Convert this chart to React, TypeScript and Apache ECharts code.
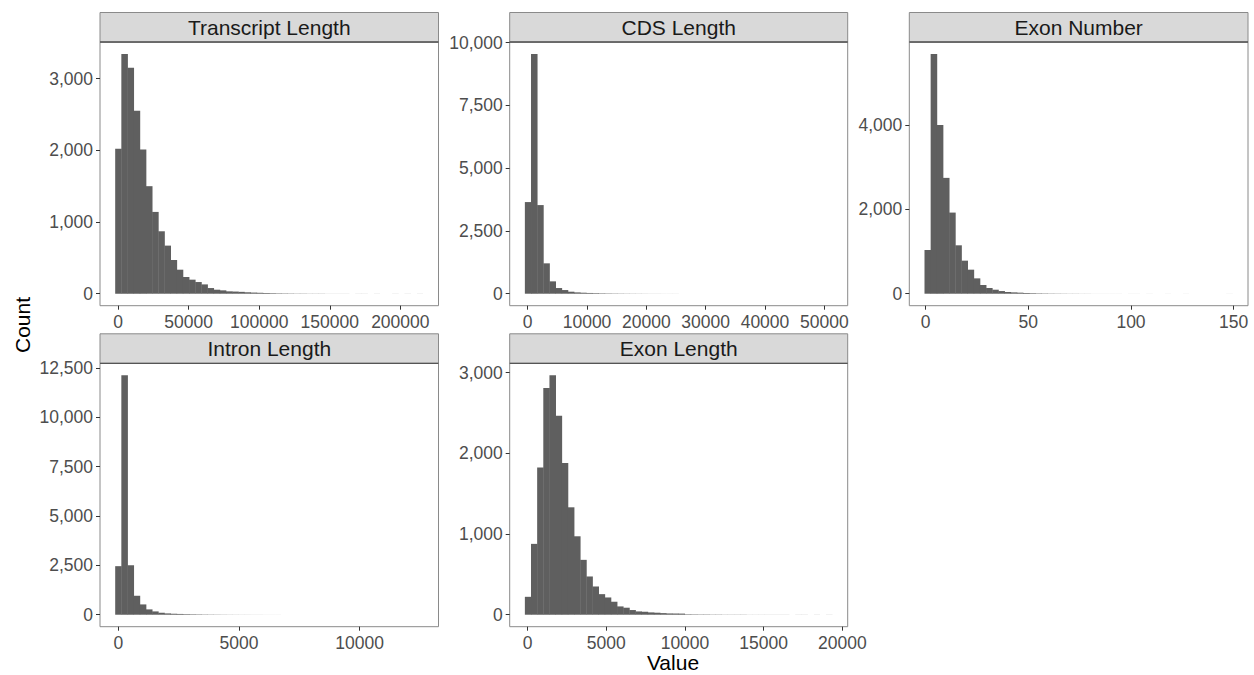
import React, { useEffect, useRef } from "react";
import * as echarts from "echarts";

// ---- Data (histogram bins: 50 bins each) ----
const PANEL_TITLES = ["Transcript Length", "CDS Length", "Exon Number", "Intron Length", "Exon Length"];

const TX_BIN_START = -1870;
const TX_BIN_WIDTH = 4360;
const TX_COUNTS = [2021, 3344, 3153, 2552, 2012, 1500, 1141, 871, 671, 470, 335, 233, 196, 163, 130, 79, 56, 47, 33, 30, 26, 20, 16, 13, 10, 8, 6, 5, 4, 3, 3, 2, 2, 2, 1, 1, 1, 1, 0, 1, 1, 0, 1, 0, 0, 1, 0, 1, 0, 1];

const CDS_BIN_START = -444;
const CDS_BIN_WIDTH = 1036;
const CDS_COUNTS = [3650, 9548, 3530, 1210, 492, 226, 146, 80, 53, 40, 30, 24, 18, 14, 11, 9, 7, 6, 5, 4, 3, 3, 2, 2, 2, 1, 1, 1, 1, 1, 0, 1, 0, 1, 0, 0, 1, 0, 0, 1, 0, 0, 0, 0, 0, 0, 0, 0, 0, 1];

const EXNUM_BIN_START = -0.5;
const EXNUM_BIN_WIDTH = 3;
const EXNUM_COUNTS = [1037, 5685, 3998, 2747, 1924, 1148, 784, 570, 364, 206, 135, 95, 63, 40, 32, 25, 18, 14, 10, 8, 6, 5, 4, 3, 3, 2, 2, 1, 1, 1, 1, 1, 0, 1, 1, 0, 1, 0, 0, 1, 0, 0, 1, 0, 0, 0, 0, 0, 0, 1];

const INTRON_BIN_START = -120;
const INTRON_BIN_WIDTH = 255;
const INTRON_COUNTS = [2458, 12121, 2508, 960, 522, 270, 168, 100, 67, 50, 40, 30, 25, 20, 15, 12, 10, 8, 6, 5, 4, 4, 3, 3, 2, 2, 2, 1, 1, 1, 1, 1, 0, 1, 1, 0, 1, 0, 1, 0, 0, 1, 0, 0, 0, 1, 0, 0, 0, 1];

const EXLEN_BIN_START = -167;
const EXLEN_BIN_WIDTH = 390.7;
const EXLEN_COUNTS = [222, 878, 1825, 2810, 2967, 2464, 1879, 1331, 972, 680, 474, 350, 255, 214, 161, 103, 87, 58, 41, 37, 29, 25, 20, 16, 15, 14, 6, 5, 4, 4, 3, 3, 2, 2, 2, 2, 1, 1, 1, 1, 1, 1, 1, 0, 1, 1, 0, 1, 0, 1];

const TX_XTICKS = [0, 50000, 100000, 150000, 200000];
const TX_YTICKS = [0, 1000, 2000, 3000];
const CDS_XTICKS = [0, 10000, 20000, 30000, 40000, 50000];
const CDS_YTICKS = [0, 2500, 5000, 7500, 10000];
const EXNUM_XTICKS = [0, 50, 100, 150];
const EXNUM_YTICKS = [0, 2000, 4000];
const INTRON_XTICKS = [0, 5000, 10000];
const INTRON_YTICKS = [0, 2500, 5000, 7500, 10000, 12500];
const EXLEN_XTICKS = [0, 5000, 10000, 15000, 20000];
const EXLEN_YTICKS = [0, 1000, 2000, 3000];

const X_TITLE = "Value";
const Y_TITLE = "Count";

// ---- Layout / style ----
const FONT = "'Liberation Sans', Arial, sans-serif";
const BAR_COLOR = "#5f5f5f";
const BORDER = "#8a8a8a";
const STRIP_FILL = "#d9d9d9";

const PANELS = [
  { left: 100, top: 42, width: 338.5, height: 263.7 },
  { left: 509.7, top: 42, width: 338, height: 263.7 },
  { left: 909.3, top: 42, width: 338.7, height: 263.7 },
  { left: 100, top: 363.3, width: 338.5, height: 263.4 },
  { left: 509.7, top: 363.3, width: 338, height: 263.4 },
];
const STRIP_H = 29.5;

export default function App() {
  const ref = useRef<HTMLDivElement>(null);

  useEffect(() => {
    if (!ref.current) return;
    const chart = echarts.init(ref.current, undefined, { renderer: "svg" });

    const datasets = [
      { start: TX_BIN_START, w: TX_BIN_WIDTH, counts: TX_COUNTS, xt: TX_XTICKS, yt: TX_YTICKS },
      { start: CDS_BIN_START, w: CDS_BIN_WIDTH, counts: CDS_COUNTS, xt: CDS_XTICKS, yt: CDS_YTICKS },
      { start: EXNUM_BIN_START, w: EXNUM_BIN_WIDTH, counts: EXNUM_COUNTS, xt: EXNUM_XTICKS, yt: EXNUM_YTICKS },
      { start: INTRON_BIN_START, w: INTRON_BIN_WIDTH, counts: INTRON_COUNTS, xt: INTRON_XTICKS, yt: INTRON_YTICKS },
      { start: EXLEN_BIN_START, w: EXLEN_BIN_WIDTH, counts: EXLEN_COUNTS, xt: EXLEN_XTICKS, yt: EXLEN_YTICKS },
    ];

    const grids: any[] = [];
    const xAxes: any[] = [];
    const yAxes: any[] = [];
    const series: any[] = [];
    const graphics: any[] = [];

    datasets.forEach((d, i) => {
      const p = PANELS[i];
      const xmin = d.start;
      const xmax = d.start + d.counts.length * d.w;
      const xspan = xmax - xmin;
      const ymax = Math.max(...d.counts);
      grids.push({
        left: p.left,
        top: p.top,
        width: p.width,
        height: p.height,
        show: true,
        borderColor: BORDER,
        borderWidth: 1,
        backgroundColor: "#ffffff",
        containLabel: false,
      });
      xAxes.push({
        type: "value",
        gridIndex: i,
        position: "bottom",
        min: xmin - 0.05 * xspan,
        max: xmax + 0.05 * xspan,
        axisLine: { show: false, onZero: false },
        splitLine: { show: false },
        axisTick: { show: true, inside: false, length: 4, lineStyle: { color: "#333333", width: 1 }, customValues: d.xt },
        axisLabel: {
          show: true,
          customValues: d.xt,
          margin: 7,
          color: "#4d4d4d",
          fontSize: 17.5,
          fontFamily: FONT,
          formatter: (v: number) => String(v),
          hideOverlap: false,
          showMinLabel: true,
          showMaxLabel: true,
        },
      });
      yAxes.push({
        type: "value",
        gridIndex: i,
        position: "left",
        min: -0.05 * ymax,
        max: 1.05 * ymax,
        axisLine: { show: false, onZero: false },
        splitLine: { show: false },
        axisTick: { show: true, inside: false, length: 4, lineStyle: { color: "#333333", width: 1 }, customValues: d.yt },
        axisLabel: {
          show: true,
          customValues: d.yt,
          margin: 7,
          color: "#4d4d4d",
          fontSize: 17.5,
          fontFamily: FONT,
          formatter: (v: number) => v.toLocaleString("en-US"),
          showMinLabel: true,
          showMaxLabel: true,
        },
      });
      const data = d.counts.map((c, k) => [d.start + k * d.w, d.start + (k + 1) * d.w, c]);
      series.push({
        type: "custom",
        xAxisIndex: i,
        yAxisIndex: i,
        encode: { x: [0, 1], y: 2 },
        data,
        renderItem: (params: any, api: any) => {
          const x0 = api.value(0);
          const x1 = api.value(1);
          const c = api.value(2);
          if (!c) return null;
          const a = api.coord([x0, c]);
          const b = api.coord([x1, 0]);
          return {
            type: "rect",
            shape: { x: a[0] - 0.2, y: a[1], width: b[0] - a[0] + 0.4, height: b[1] - a[1] },
            style: { fill: BAR_COLOR },
          };
        },
      });
      // strip
      graphics.push({
        type: "rect",
        shape: { x: p.left, y: p.top - STRIP_H, width: p.width, height: STRIP_H },
        style: { fill: STRIP_FILL, stroke: BORDER, lineWidth: 1 },
      });
      graphics.push({
        type: "line",
        shape: { x1: p.left, y1: p.top, x2: p.left + p.width, y2: p.top },
        style: { stroke: "#555555", lineWidth: 1.3 },
      });
      graphics.push({
        type: "text",
        x: p.left + p.width / 2,
        y: p.top - STRIP_H / 2,
        style: {
          text: PANEL_TITLES[i],
          fill: "#1a1a1a",
          fontSize: 21,
          fontFamily: FONT,
          align: "center",
          verticalAlign: "middle",
        },
      });
    });

    graphics.push({
      type: "text",
      x: 22,
      y: 325,
      rotation: Math.PI / 2,
      style: {
        text: Y_TITLE,
        fill: "#000000",
        fontSize: 21,
        fontFamily: FONT,
        align: "center",
        verticalAlign: "middle",
      },
    });
    graphics.push({
      type: "text",
      x: 673,
      y: 662,
      style: {
        text: X_TITLE,
        fill: "#000000",
        fontSize: 21,
        fontFamily: FONT,
        align: "center",
        verticalAlign: "middle",
      },
    });

    chart.setOption({
      animation: false,
      backgroundColor: "#ffffff",
      grid: grids,
      xAxis: xAxes,
      yAxis: yAxes,
      series,
      graphic: graphics,
    });

    return () => chart.dispose();
  }, []);

  return (
    <div
      ref={ref}
      style={{ position: "fixed", left: 0, top: 0, width: 1254, height: 675, background: "#fff" }}
    />
  );
}
